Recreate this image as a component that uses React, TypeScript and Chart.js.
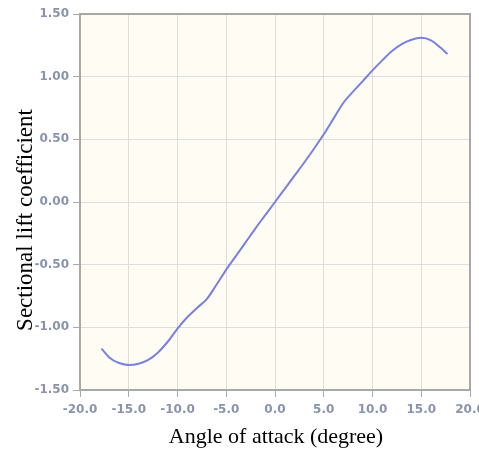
import React, { useEffect, useRef } from "react";
import { Chart, registerables } from "chart.js";

Chart.register(...registerables);

const angles = [-17.8, -17, -16, -15, -14, -13, -12, -11, -10, -9, -8, -7, -6, -5, -4, -3, -2, -1, 0, 1, 2, 3, 4, 5, 6, 7, 8, 9, 10, 11, 12, 13, 14, 15, 16, 17, 17.7];
const lift = [-1.17, -1.24, -1.285, -1.3, -1.29, -1.26, -1.2, -1.115, -1.01, -0.92, -0.845, -0.775, -0.66, -0.54, -0.43, -0.32, -0.21, -0.105, 0.0, 0.105, 0.21, 0.315, 0.425, 0.54, 0.665, 0.79, 0.88, 0.965, 1.05, 1.13, 1.205, 1.26, 1.295, 1.31, 1.29, 1.23, 1.18];
const xTitle = "Angle of attack (degree)";
const yTitle = "Sectional lift coefficient";

const areaPlugin = {
  id: "areaPlugin",
  beforeDraw(chart: any) {
    const { ctx, chartArea } = chart;
    ctx.save();
    ctx.fillStyle = "#fffcf3";
    ctx.fillRect(chartArea.left, chartArea.top, chartArea.right - chartArea.left, chartArea.bottom - chartArea.top);
    ctx.restore();
  },
  afterDatasetsDraw(chart: any) {
    const { ctx, chartArea } = chart;
    ctx.save();
    ctx.strokeStyle = "#a8a8a8";
    ctx.lineWidth = 2;
    ctx.strokeRect(chartArea.left, chartArea.top, chartArea.right - chartArea.left, chartArea.bottom - chartArea.top);
    ctx.restore();
  },
  afterDraw(chart: any) {
    const { ctx, chartArea } = chart;
    ctx.save();
    ctx.fillStyle = "#000";
    ctx.font = "22px 'Liberation Serif'";
    ctx.textAlign = "center";
    ctx.textBaseline = "alphabetic";
    ctx.fillText(xTitle, (chartArea.left + chartArea.right) / 2 + 1, 443);
    ctx.font = "23px 'Liberation Serif'";
    ctx.translate(32, 220);
    ctx.rotate(-Math.PI / 2);
    ctx.fillText(yTitle, 0, 0);
    ctx.restore();
  },
};

export default function App() {
  const ref = useRef<HTMLCanvasElement>(null);
  useEffect(() => {
    const chart = new Chart(ref.current!, {
      type: "line",
      data: {
        datasets: [
          {
            data: angles.map((a, i) => ({ x: a, y: lift[i] })),
            borderColor: "#7880e0",
            borderWidth: 2,
            pointRadius: 0,
            tension: 0.4,
            cubicInterpolationMode: "monotone",
            fill: false,
          },
        ],
      },
      options: {
        animation: false,
        responsive: false,
        layout: { padding: { top: 14, right: 30, bottom: 0, left: 0 } },
        plugins: { legend: { display: false }, tooltip: { enabled: false } },
        scales: {
          x: {
            type: "linear",
            min: -20,
            max: 20,
            afterFit: (s: any) => { s.height = 62; },
            ticks: {
              stepSize: 5,
              callback: (v: any) => Number(v).toFixed(1),
              color: "#8a92ad",
              font: { family: "DejaVu Sans", size: 12, weight: "bold" },
              padding: 6,
              maxRotation: 0,
            },
            grid: { color: "#dddddd", tickColor: "#aaaaaa", tickLength: 7 },
            border: { color: "#a8a8a8", width: 2 },
          },
          y: {
            type: "linear",
            min: -1.5,
            max: 1.5,
            afterFit: (s: any) => { s.width = 80; },
            ticks: {
              stepSize: 0.5,
              callback: (v: any) => Number(v).toFixed(2),
              color: "#8a92ad",
              font: { family: "DejaVu Sans", size: 12, weight: "bold" },
              padding: 4,
            },
            grid: { color: "#dddddd", tickColor: "#aaaaaa", tickLength: 7 },
            border: { color: "#a8a8a8", width: 2 },
          },
        },
      },
      plugins: [areaPlugin],
    } as any);
    return () => chart.destroy();
  }, []);
  return (
    <div style={{ position: "absolute", left: 0, top: 0, width: 479, height: 452, overflow: "hidden", background: "#fff" }}>
      <canvas ref={ref} width={500} height={452} style={{ width: 500, height: 452 }} />
    </div>
  );
}
